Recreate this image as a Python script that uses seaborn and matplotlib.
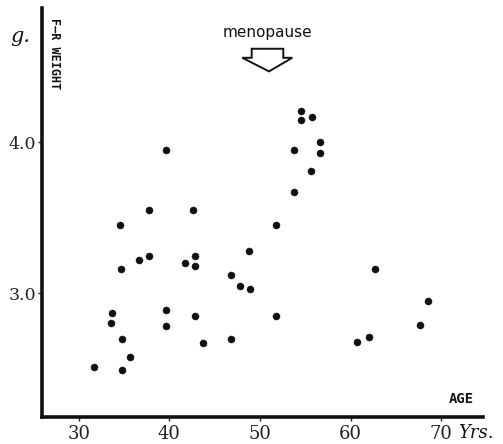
import matplotlib
matplotlib.use("Agg")
import matplotlib.pyplot as plt
from matplotlib.patches import Polygon
import pandas as pd
import seaborn as sns

# Age (years) and F-R weight (g) for each subject
age = [39.6, 37.7, 34.5, 37.7, 36.7, 34.7, 33.7, 33.6, 39.6, 39.6,
       34.8, 35.7, 31.7, 34.8, 42.6, 51.8, 48.8, 42.8, 41.7, 42.8,
       46.8, 47.8, 48.9, 42.8, 51.8, 46.8, 43.7, 54.5, 54.5, 55.7,
       56.6, 53.7, 56.6, 55.6, 53.8, 62.7, 68.5, 67.7, 62.0, 60.7]
weight = [3.95, 3.55, 3.45, 3.25, 3.22, 3.16, 2.87, 2.80, 2.89, 2.78,
          2.70, 2.58, 2.51, 2.49, 3.55, 3.45, 3.28, 3.25, 3.20, 3.18,
          3.12, 3.05, 3.03, 2.85, 2.85, 2.70, 2.67, 4.21, 4.15, 4.17,
          4.00, 3.95, 3.93, 3.81, 3.67, 3.16, 2.95, 2.79, 2.71, 2.68]

x_ticks = [30, 40, 50, 60, 70]
y_ticks = [3.0, 4.0]
y_tick_labels = ["3.0", "4.0"]

df = pd.DataFrame({"age": age, "weight": weight})

sns.set_style("ticks")
fig = plt.figure(figsize=(5.03, 4.44), dpi=100)
ax = fig.add_axes([42 / 503, 27 / 444, 441 / 503, 409 / 444])

sns.scatterplot(data=df, x="age", y="weight", ax=ax, color="#111111",
                s=26, edgecolor="#111111", linewidth=0.3, legend=False)

ax.set_xlim(25.95, 74.6)
ax.set_ylim(2.18, 4.89)
ax.set_xticks(x_ticks)
ax.set_xticklabels([str(t) for t in x_ticks], family="DejaVu Serif",
                   fontsize=13, color="#222222")
ax.set_yticks(y_ticks)
ax.set_yticklabels(y_tick_labels, family="DejaVu Serif", fontsize=12.5,
                   color="#222222")
ax.tick_params(axis="both", length=3, width=1, color="#222222", pad=1)
ax.tick_params(axis="x", pad=3)
ax.set_xlabel("")
ax.set_ylabel("")

sns.despine(ax=ax)
for side in ("left", "bottom"):
    ax.spines[side].set_linewidth(2.6)
    ax.spines[side].set_color("#111111")

# Axis captions
ax.text(54 / 503 * 503 / 441 - 42 / 441, 1 - (10 / 409), "F\u2014R WEIGHT",
        transform=ax.transAxes, rotation=-90, ha="center", va="top",
        family="DejaVu Sans Mono", fontweight="bold", fontsize=8.5,
        color="#111111")
fig.text(20 / 503, 1 - 37 / 444, "g.", family="DejaVu Serif",
         style="italic", fontsize=15, ha="center", va="center",
         color="#111111")
fig.text(461 / 503, 1 - 399 / 444, "AGE", family="DejaVu Sans Mono",
         fontweight="bold", fontsize=10, ha="center", va="center",
         color="#111111")
fig.text(476 / 503, 1 - 433 / 444, "Yrs.", family="DejaVu Serif",
         style="italic", fontsize=13, ha="center", va="center",
         color="#111111")

# Menopause marker: caption above a hollow block arrow
fig.text(267 / 503, 1 - 32 / 444, "menopause", family="DejaVu Sans",
         fontsize=11, ha="center", va="center", color="#111111")
arrow = Polygon([(49.08, 4.62), (52.57, 4.62), (52.57, 4.56), (53.56, 4.56),
                 (50.99, 4.47), (48.05, 4.56), (49.08, 4.56)],
                closed=True, fill=False, edgecolor="#111111", linewidth=1.4,
                clip_on=False)
ax.add_patch(arrow)

fig.savefig("out.png", dpi=100)
